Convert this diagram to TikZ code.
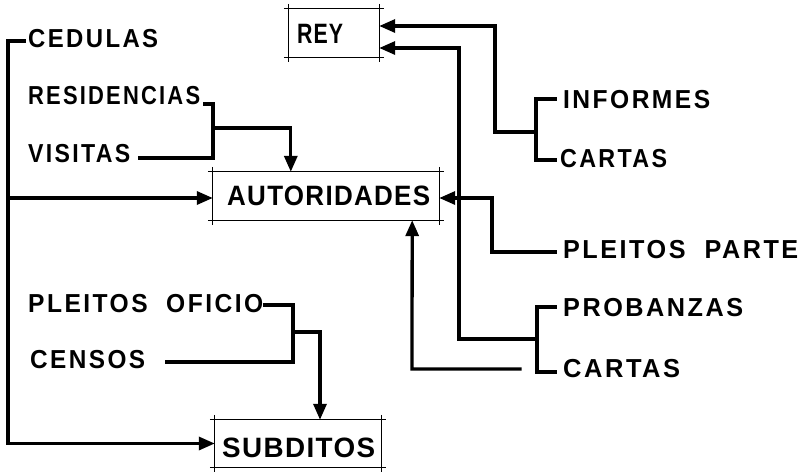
\documentclass[tikz,border=0pt]{standalone}
\usepackage{fontspec}
\usepackage{graphicx}
\setmainfont{Liberation Sans}
\newfontfamily\labfont[LetterSpace=10,WordSpace=2]{Liberation Sans Bold}
\newfontfamily\boxfont[LetterSpace=5]{Liberation Sans Bold}
\newcommand{\fitw}[2]{\resizebox{#1pt}{\height}{#2}}
\usetikzlibrary{arrows.meta,calc}
\tikzset{
  lab/.style={anchor=base west,inner sep=0pt,font=\labfont\fontsize{26}{26}\selectfont},
  boxlab/.style={anchor=base west,inner sep=0pt,font=\boxfont\fontsize{28}{28}\selectfont},
  frame/.style={draw=none,inner sep=0pt},
  conn/.style={line width=3.3pt,line join=miter,line cap=rect},
  arr/.style={conn,-{Triangle[length=16pt,width=13pt]}},
  thinline/.style={line width=0.7pt}
}
\newcommand{\cropbox}[1]{%
  \draw[thinline] ($(#1.north west)+(-5,0)$) -- ($(#1.north east)+(5,0)$);
  \draw[thinline] ($(#1.south west)+(-5,0)$) -- ($(#1.south east)+(5,0)$);
  \draw[thinline] ($(#1.north west)+(0,-5)$) -- ($(#1.south west)+(0,5)$);
  \draw[thinline] ($(#1.north east)+(0,-5)$) -- ($(#1.south east)+(0,5)$);
}
\begin{document}
\begin{tikzpicture}[x=1pt,y=-1pt]
\useasboundingbox[fill=white] (0,0) rectangle (804,474);
% boxes
\node[frame,minimum width=90pt,minimum height=48pt] (rey) at (334,33) {};
\node[boxlab] (reyt) at (297,43) {\fitw{46}{REY}};
\node[frame,minimum width=226pt,minimum height=48pt] (aut) at (326,196) {};
\node[boxlab] (autt) at (227,205) {\fitw{203}{AUTORIDADES}};
\node[frame,minimum width=166pt,minimum height=47pt] (sub) at (298,443.5) {};
\node[boxlab] (subt) at (222,457) {\fitw{153}{SUBDITOS}};
\cropbox{rey}
\cropbox{aut}
\cropbox{sub}
% labels
\node[lab] (ced) at (28,47) {\fitw{130}{CEDULAS}};
\node[lab] (res) at (28,104) {\fitw{172}{RESIDENCIAS}};
\node[lab] (vis) at (28,162) {\fitw{102}{VISITAS}};
\node[lab] (plo) at (28,312) {\fitw{235}{PLEITOS OFICIO}};
\node[lab] (cen) at (30,368) {\fitw{115}{CENSOS}};
\node[lab] (inf) at (563,108) {\fitw{147}{INFORMES}};
\node[lab] (car1) at (560,167) {\fitw{107}{CARTAS}};
\node[lab] (plp) at (563,258) {\fitw{235}{PLEITOS PARTE}};
\node[lab] (pro) at (563,316) {\fitw{180}{PROBANZAS}};
\node[lab] (car2) at (563,377) {\fitw{117}{CARTAS}};
% free ends
\coordinate (c0) at (24,41);
\coordinate (r0) at (205,104);
\coordinate (v0) at (140,158);
\coordinate (o0) at (265,305);
\coordinate (s0) at (167,362);
\coordinate (i0) at (555,99);
\coordinate (k0) at (555,160);
\coordinate (p0) at (555,252);
\coordinate (b0) at (555,307);
\coordinate (k1) at (555,372);
\coordinate (k2) at (520,369);
% CEDULAS
\draw[arr] (c0) -- (8,41) |- (sub.west);
\draw[arr] (8,198) -- ($(aut.west)+(0,2)$);
% RESIDENCIAS / VISITAS
\draw[conn] (r0) -- (213,104) -- (213,158) -- (v0);
\draw[arr] (213,128) -| ($(aut.north west)+(78,0)$);
% INFORMES / CARTAS -> REY
\draw[conn] (i0) -- (536,99) -- (536,160) -- (k0);
\draw[arr] (536,132) -- (495,132) |- ($(rey.east)+(0,-7)$);
% PROBANZAS / CARTAS -> REY
\draw[conn] (b0) -- (537,307) -- (537,372) -- (k1);
\draw[arr] (537,339) -- (459,339) |- ($(rey.east)+(0,15)$);
% PLEITOS PARTE -> AUTORIDADES
\draw[arr] (p0) -- (492,252) |- ($(aut.east)+(0,2)$);
% CARTAS -> AUTORIDADES from below
\draw[arr] (k2) -- (412,369) -- ($(aut.south east)+(-27,0)$);
% PLEITOS OFICIO / CENSOS -> SUBDITOS
\draw[conn] (o0) -- (293,305) -- (293,362) -- (s0);
\draw[arr] (293,332) -| ($(sub.north)+(22,0)$);
\end{tikzpicture}
\end{document}
